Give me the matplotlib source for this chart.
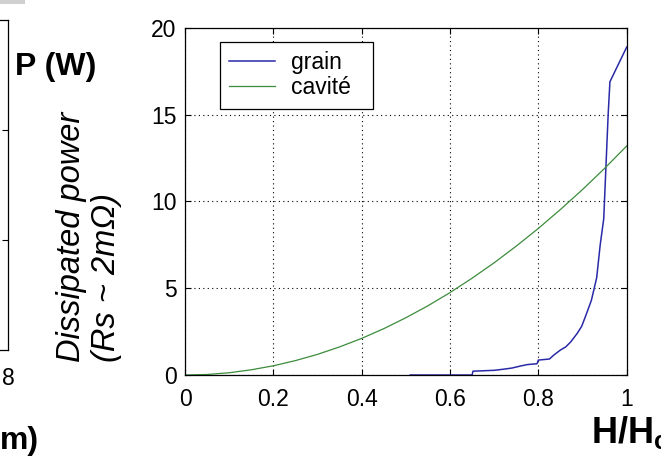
import matplotlib
matplotlib.use("Agg")
import matplotlib.pyplot as plt
from matplotlib.patches import Rectangle

plt.rcParams['font.family'] = ['Liberation Sans', 'DejaVu Sans']
plt.rcParams['mathtext.fontset'] = 'custom'
plt.rcParams['mathtext.bf'] = 'Liberation Sans:bold'
plt.rcParams['mathtext.rm'] = 'Liberation Sans'

# dissipated power vs H/Hc
cavite_h = [0.0, 0.05, 0.10, 0.15, 0.20, 0.25, 0.30, 0.35, 0.40, 0.45, 0.50,
            0.55, 0.60, 0.65, 0.70, 0.75, 0.80, 0.85, 0.90, 0.95, 1.0]
cavite_p = [0.0, 0.03, 0.13, 0.30, 0.53, 0.83, 1.19, 1.62, 2.11, 2.67, 3.30,
            3.99, 4.75, 5.58, 6.47, 7.43, 8.45, 9.54, 10.69, 11.91, 13.2]

grain_h = [0.51, 0.65, 0.652, 0.70, 0.72, 0.74, 0.76, 0.775, 0.797, 0.80, 0.825,
           0.835, 0.85, 0.862, 0.873, 0.888, 0.898, 0.907, 0.92, 0.932, 0.94,
           0.948, 0.953, 0.958, 0.962, 1.0]
grain_p = [0.0, 0.0, 0.22, 0.27, 0.33, 0.40, 0.52, 0.60, 0.65, 0.86, 0.92,
           1.15, 1.44, 1.62, 1.9, 2.4, 2.8, 3.4, 4.3, 5.6, 7.5,
           9.0, 12.0, 15.0, 16.9, 18.9]

x_ticks = [0, 0.2, 0.4, 0.6, 0.8, 1]
x_ticklabels = ['0', '0.2', '0.4', '0.6', '0.8', '1']
y_ticks = [0, 5, 10, 15, 20]

W, H = 661, 459
fig = plt.figure(figsize=(W / 100, H / 100), dpi=100)

ax = fig.add_axes([185 / W, 1 - 375 / H, (626.7 - 185) / W, (375 - 28) / H])
ax.plot(grain_h, grain_p, color='#2a2aa8', lw=1.1, label='grain')
ax.plot(cavite_h, cavite_p, color='#3c8c3c', lw=0.9, label='cavité')
ax.set_xlim(0, 1)
ax.set_ylim(0, 20)
ax.set_xticks(x_ticks)
ax.set_xticklabels(x_ticklabels)
ax.set_yticks(y_ticks)
ax.tick_params(direction='in', length=4, labelsize=16.5, top=True, right=True,
               width=0.8)
ax.tick_params(axis='x', pad=9)
ax.tick_params(axis='y', pad=6)
ax.grid(True, color='black', linestyle=(0, (1, 3)), linewidth=0.8)
for s in ax.spines.values():
    s.set_linewidth(0.9)

leg = ax.legend(loc='upper left', mode='expand',
                bbox_to_anchor=(220 / W, 1 - 104 / H, 153 / W, 62 / H),
                bbox_transform=fig.transFigure, borderaxespad=0,
                fancybox=False, framealpha=1, edgecolor='black',
                fontsize=16.5, handlelength=2.0, handletextpad=0.7,
                labelspacing=0.1, borderpad=0.4)
leg.get_frame().set_linewidth(0.9)

# neighbouring panel edge on the left
ax0 = fig.add_axes([-0.3, 1 - 350 / H, 0.3 + 8 / W, (350 - 20) / H])
ax0.set_xlim(0, 8)
ax0.set_ylim(0, 3)
ax0.set_xticks([8])
ax0.set_xticklabels(['8'])
ax0.set_yticks([1, 2])
ax0.yaxis.tick_right()
ax0.tick_params(axis='y', direction='in', length=4, labelright=False)
ax0.tick_params(axis='x', direction='in', length=0, labelsize=16.5, pad=12)
for s in ax0.spines.values():
    s.set_linewidth(0.9)
fig.patches.append(Rectangle((0, 1 - 4 / H), 25 / W, 4 / H, transform=fig.transFigure,
                             facecolor='#d0d0d0', edgecolor='none'))

fig.text(15 / W, 1 - 75 / H, 'P (W)', fontsize=23, fontweight='bold',
         ha='left', va='baseline')
fig.text(0, 1 - 449 / H, 'm)', fontsize=23, fontweight='bold',
         ha='left', va='baseline')
fig.text(591 / W, 1 - 443 / H, r'$\mathbf{H/H_c}$', fontsize=26,
         ha='left', va='baseline')
fig.text(89 / W, 1 - 362 / H, 'Dissipated power\n(Rs ~ 2m\u03a9)', fontsize=23.5,
         style='italic', rotation=90, ha='center', va='bottom',
         multialignment='left', linespacing=1.2)

fig.savefig('out.png', dpi=100)
